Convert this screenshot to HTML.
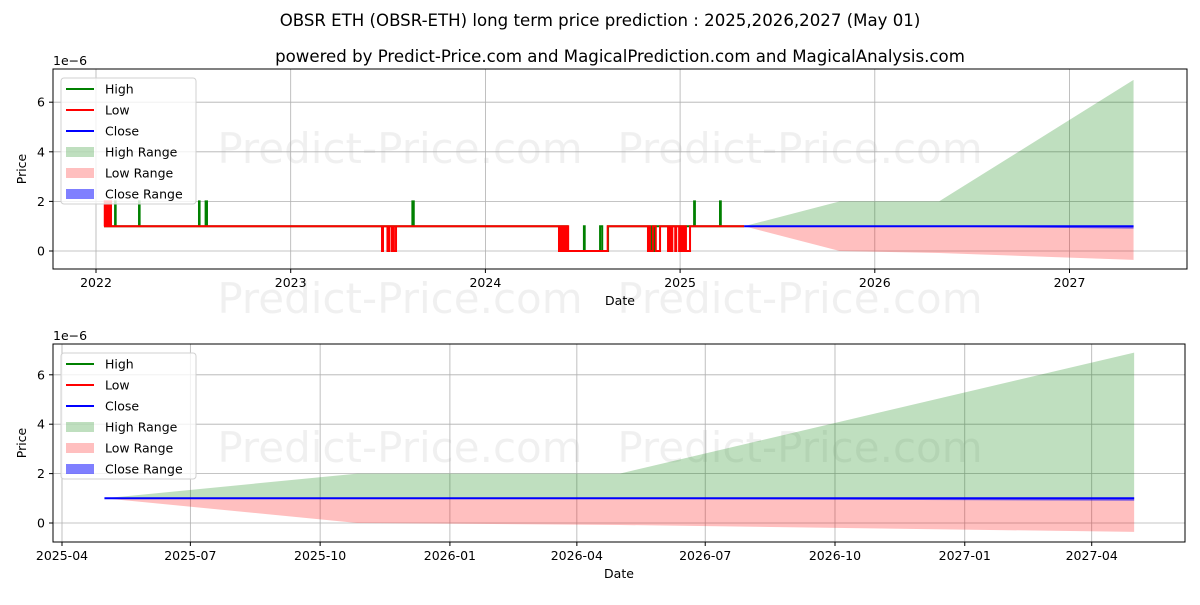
<!DOCTYPE html>
<html><head><meta charset="utf-8">
<style>
body{margin:0;background:#fff;}
svg text{font-family:"DejaVu Sans","Liberation Sans",sans-serif;}
</style></head>
<body>
<svg id="chart" width="1200" height="600" viewBox="0 0 1200 600" xmlns="http://www.w3.org/2000/svg">
<rect width="1200" height="600" fill="#fff"/>
<text x="600" y="26" font-size="16.6" text-anchor="middle">OBSR ETH (OBSR-ETH) long term price prediction : 2025,2026,2027 (May 01)</text>
<text x="620" y="62" font-size="16.6" text-anchor="middle">powered by Predict-Price.com and MagicalPrediction.com and MagicalAnalysis.com</text>
<g id="g"></g>
</svg>
<script>
// historical step series (decimal years)
const highDates=[2022.041,2022.098,2022.101,2022.221,2022.224,2022.529,2022.532,2022.563,2022.570,2023.625,2023.632,2024.378,2024.385,2024.395,2024.405,2024.420,2024.506,2024.510,2024.589,2024.600,2024.630,2024.840,2024.850,2024.860,2024.870,2025.072,2025.076,2025.205,2025.209,2025.329];
const highVals=[1,2,1,2,1,2,1,2,1,2,1,0,1,0,1,0,1,0,1,0,1,0,1,0,1,2,1,2,1,1];
const lowDates=[2022.041,2022.045,2022.050,2022.055,2022.065,2022.070,2022.077,2023.469,2023.474,2023.497,2023.507,2023.520,2023.525,2023.530,2023.541,2024.378,2024.383,2024.390,2024.400,2024.410,2024.415,2024.425,2024.628,2024.835,2024.840,2024.845,2024.860,2024.875,2024.897,2024.938,2024.945,2024.955,2024.960,2024.975,2024.980,2024.995,2025.000,2025.010,2025.020,2025.030,2025.051,2025.329];
const lowVals=[1,2,1,2,1,2,1,0,1,0,1,0,1,0,1,0,1,0,1,0,1,0,1,0,1,0,1,0,1,0,1,0,1,0,1,0,1,0,1,0,1,1];
// prediction
const predDates=[2025.329,2025.82,2026.33,2027.329];
const highUpper=[1,2,2,6.9];
const lowLower=[1,0,-0.08,-0.36];
const closeVals=[1,1,1,1];
const closeLower=[1,1,0.98,0.9];
const closeUpper=[1,1,1,1.03];
const yTicks=[0,2,4,6];
const topXTicks=[2022,2023,2024,2025,2026,2027];
const botXTicks=["2025-04","2025-07","2025-10","2026-01","2026-04","2026-07","2026-10","2027-01","2027-04"];

const NS="http://www.w3.org/2000/svg";
const G=document.getElementById('g');
function mk(t,a,p){const e=document.createElementNS(NS,t);for(const k in a)e.setAttribute(k,a[k]);(p||G).appendChild(e);return e;}
function ym(s){const [y,m]=s.split('-').map(Number);const d=new Date(Date.UTC(y,m-1,1));const s0=Date.UTC(y,0,1),s1=Date.UTC(y+1,0,1);return y+(d-s0)/(s1-s0);}

function panel(P){
  const g=mk('g',{});
  
  
  const {L,R,T,B}=P;
  const X=P.x, Y=v=>P.y0-v*P.ys;
  P.wm.forEach(w=>{const t=mk('text',{x:w[0],y:w[1],'font-size':42,fill:'#000','fill-opacity':0.06,'text-anchor':'middle'},g);t.textContent='Predict-Price.com';});
  P.xt.forEach(t=>{mk('line',{x1:X(t.v),x2:X(t.v),y1:T,y2:B,stroke:'#b0b0b0','stroke-width':0.8},g);});
  yTicks.forEach(v=>{mk('line',{x1:L,x2:R,y1:Y(v),y2:Y(v),stroke:'#b0b0b0','stroke-width':0.8},g);});
  function band(up,lo,fill,op,name){let d='';predDates.forEach((t,i)=>{d+=(i?'L':'M')+X(t)+','+Y(up[i]);});for(let i=predDates.length-1;i>=0;i--)d+='L'+X(predDates[i])+','+Y(lo[i]);const p=mk('path',{d:d+'Z',fill:fill,'fill-opacity':op},g);}
  band(highUpper,closeVals,'#008000',0.25,'high-range');
  band(closeVals,lowLower,'#ff0000',0.25,'low-range');
  band(closeUpper,closeLower,'#0000ff',0.5,'close-range');
  function step(ds,vs,col,name){let d='';ds.forEach((t,i)=>{if(i===0)d='M'+X(t)+','+Y(vs[0]);else d+='L'+X(t)+','+Y(vs[i-1])+'L'+X(t)+','+Y(vs[i]);});const p=mk('path',{d:d,fill:'none',stroke:col,'stroke-width':2},g);}
  if(P.hist){step(highDates,highVals,'#008000','high-line');step(lowDates,lowVals,'#ff0000','low-line');}
  let d='';predDates.forEach((t,i)=>{d+=(i?'L':'M')+X(t)+','+Y(closeVals[i]);});
  const cl=mk('path',{d:d,fill:'none',stroke:'#0000ff','stroke-width':2},g);
  mk('rect',{x:L,y:T,width:R-L,height:B-T,fill:'none',stroke:'#000','stroke-width':1},g);
  P.xt.forEach(t=>{mk('line',{x1:X(t.v),x2:X(t.v),y1:B,y2:B+4,stroke:'#000'},g);const tx=mk('text',{x:X(t.v),y:B+18,'font-size':12.5,'text-anchor':'middle'},g);tx.textContent=t.l;});
  yTicks.forEach(v=>{mk('line',{x1:L-4,x2:L,y1:Y(v),y2:Y(v),stroke:'#000'},g);const tx=mk('text',{x:L-8,y:Y(v)+4.5,'font-size':12.5,'text-anchor':'end'},g);tx.textContent=v;});
  const ex=mk('text',{x:L,y:T-4,'font-size':12.5},g);ex.textContent='1e−6';
  const xl=mk('text',{x:(L+R)/2,y:B+36,'font-size':12.5,'text-anchor':'middle'},g);xl.textContent='Date';
  const yl=mk('text',{x:0,y:0,'font-size':12.5,'text-anchor':'middle',transform:`translate(26,${(T+B)/2}) rotate(-90)`},g);yl.textContent='Price';
  const lg=mk('g',{},g);
  const lx=L+8,ly=T+9;
  mk('rect',{x:lx,y:ly,width:135,height:126,rx:3,fill:'#fff','fill-opacity':0.8,stroke:'#d0d0d0'},lg);
  const items=[['High','#008000','l'],['Low','#ff0000','l'],['Close','#0000ff','l'],['High Range','#008000',0.25],['Low Range','#ff0000',0.25],['Close Range','#0000ff',0.5]];
  items.forEach((it,i)=>{const cy=ly+11+i*21;
    if(it[2]==='l')mk('line',{x1:lx+5,x2:lx+33,y1:cy,y2:cy,stroke:it[1],'stroke-width':2},lg);
    else mk('rect',{x:lx+5,y:cy-5,width:28,height:10,fill:it[1],'fill-opacity':it[2]},lg);
    const t=mk('text',{x:lx+44,y:cy+4.5,'font-size':12.5},lg);t.textContent=it[0];});
}
panel({name:'long-term-panel',L:53,R:1187,T:69,B:269,y0:251,ys:24.8,hist:true,
  x:t=>96+(t-2022)*194.7,
  xt:topXTicks.map(v=>({v:v,l:String(v)})),
  wm:[[400,163],[800,163],[400,313],[800,313]]});
panel({name:'prediction-panel',L:53,R:1185,T:344,B:542,y0:523,ys:24.7,hist:false,
  x:t=>62+(t-ym('2025-04'))*365.25*1.4096,
  xt:botXTicks.map(s=>({v:ym(s),l:s})),
  wm:[[400,462],[800,462]]});
</script>
</body></html>
